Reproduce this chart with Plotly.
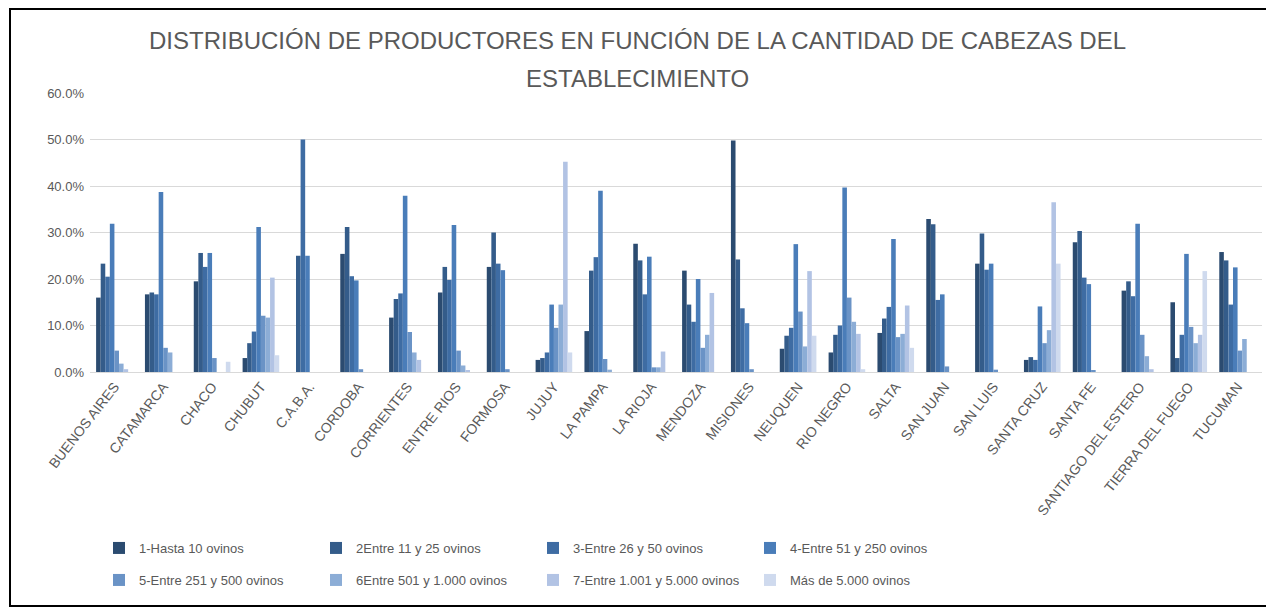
import plotly.graph_objects as go

provincias = ["BUENOS AIRES", "CATAMARCA", "CHACO", "CHUBUT", "C.A.B.A.", "CORDOBA",
              "CORRIENTES", "ENTRE RIOS", "FORMOSA", "JUJUY", "LA PAMPA", "LA RIOJA",
              "MENDOZA", "MISIONES", "NEUQUEN", "RIO NEGRO", "SALTA", "SAN JUAN",
              "SAN LUIS", "SANTA CRUZ", "SANTA FE", "SANTIAGO DEL ESTERO",
              "TIERRA DEL FUEGO", "TUCUMAN"]

series_names = ["1-Hasta 10 ovinos", "2Entre 11 y 25 ovinos", "3-Entre 26 y 50 ovinos",
                "4-Entre 51 y 250 ovinos", "5-Entre 251 y 500 ovinos",
                "6Entre 501 y 1.000 ovinos", "7-Entre 1.001 y 5.000 ovinos",
                "Más de 5.000 ovinos"]

s1 = [16.0, 16.7, 19.5, 3.0, 0.0, 25.4, 11.7, 17.1, 22.6, 2.6, 8.8, 27.6,
      21.8, 49.8, 5.0, 4.2, 8.4, 32.9, 23.3, 2.6, 27.9, 17.5, 15.0, 25.8]
s2 = [23.3, 17.1, 25.6, 6.2, 25.0, 31.2, 15.7, 22.6, 30.0, 3.0, 21.8, 24.0,
      14.5, 24.2, 7.8, 8.0, 11.5, 31.8, 29.8, 3.2, 30.3, 19.5, 3.0, 24.0]
s3 = [20.5, 16.7, 22.6, 8.7, 50.0, 20.6, 16.9, 19.8, 23.3, 4.2, 24.7, 16.7,
      10.8, 13.7, 9.5, 10.0, 14.0, 15.5, 22.0, 2.6, 20.3, 16.3, 8.0, 14.5]
s4 = [31.9, 38.7, 25.6, 31.2, 25.0, 19.7, 37.9, 31.6, 21.9, 14.5, 39.0, 24.8,
      20.0, 10.5, 27.5, 39.7, 28.6, 16.7, 23.3, 14.1, 18.9, 31.9, 25.4, 22.5]
s5 = [4.6, 5.2, 3.0, 12.1, 0.0, 0.6, 8.6, 4.6, 0.6, 9.5, 2.8, 1.0,
      5.2, 0.6, 13.0, 16.0, 7.5, 1.2, 0.5, 6.2, 0.4, 8.0, 9.7, 4.6]
s6 = [1.8, 4.2, 0.0, 11.7, 0.0, 0.0, 4.2, 1.4, 0.0, 14.5, 0.5, 1.0,
      8.0, 0.0, 5.5, 10.8, 8.2, 0.0, 0.0, 9.0, 0.0, 3.4, 6.2, 7.1]
s7 = [0.6, 0.0, 0.0, 20.3, 0.0, 0.0, 2.6, 0.4, 0.0, 45.2, 0.0, 4.4,
      17.0, 0.0, 21.7, 8.2, 14.3, 0.0, 0.0, 36.5, 0.0, 0.6, 8.0, 0.0]
s8 = [0.0, 0.0, 2.2, 3.6, 0.0, 0.0, 0.0, 0.0, 0.0, 4.2, 0.0, 0.0,
      0.0, 0.0, 7.8, 0.6, 5.2, 0.0, 0.0, 23.3, 0.0, 0.0, 21.7, 0.0]

title_lines = ["DISTRIBUCIÓN DE PRODUCTORES EN FUNCIÓN DE LA CANTIDAD DE CABEZAS DEL",
               "ESTABLECIMIENTO"]

all_series = [s1, s2, s3, s4, s5, s6, s7, s8]
colors = ["#2B4B70", "#345C8A", "#3E6CA3", "#4A7DB9", "#6A93C6", "#8CADD6",
          "#B2C3E4", "#CFDAEE"]

fig = go.Figure()
for i, (name, vals, col) in enumerate(zip(series_names, all_series, colors)):
    fig.add_trace(go.Bar(x=provincias, y=vals, name=name, marker_color=col,
                         marker_line_width=0,
                         legend="legend" if i < 4 else "legend2"))

grey = "#595959"
W, H = 1274, 610
OFF = 8  # page body offset
L, T = 90 - OFF, 93 - OFF
pw, ph = 1262 - 90, 372 - 93
R = W - L - pw
B = H - T - ph


def px_x(p):
    return (p - OFF - L) / pw


def px_y(p):
    return (T + ph - (p - OFF)) / ph


leg_common = dict(orientation="h", xref="paper", xanchor="left",
                  yref="container", yanchor="middle",
                  entrywidth=172, entrywidthmode="pixels",
                  font=dict(size=13, color=grey), traceorder="normal",
                  itemwidth=30, bgcolor="rgba(0,0,0,0)")

fig.update_layout(
    width=W, height=H,
    paper_bgcolor="white", plot_bgcolor="white",
    barmode="group", bargap=0.25, bargroupgap=0.0,
    margin=dict(l=L, r=R, t=T, b=B, autoexpand=False),
    font=dict(family="Liberation Sans, Arial, sans-serif", color=grey, size=12),
    xaxis=dict(tickangle=-52, tickfont=dict(size=14, color=grey),
               showline=True, linecolor="#d9d9d9", linewidth=1,
               showgrid=False, ticks="", automargin=False),
    yaxis=dict(range=[0, 60], dtick=10, tickformat=".1f", ticksuffix="%",
               showgrid=True, gridcolor="#d9d9d9", gridwidth=1,
               zeroline=False, showline=False, automargin=False,
               ticklabelstandoff=5,
               tickfont=dict(size=13, color=grey)),
    legend=dict(x=px_x(99), y=1 - (548 - OFF) / H, **leg_common),
    legend2=dict(x=px_x(99), y=1 - (580 - OFF) / H, **leg_common),
    showlegend=True,
)

for txt, ypix in zip(title_lines, [40, 78]):
    fig.add_annotation(text=txt, xref="paper", yref="paper",
                       x=px_x(637), y=px_y(ypix), xanchor="center", yanchor="middle",
                       showarrow=False, font=dict(size=24, color=grey))

fig.add_shape(type="rect", xref="paper", yref="paper",
              x0=px_x(10), x1=px_x(1268), y0=px_y(606), y1=px_y(9),
              line=dict(color="black", width=2), fillcolor="rgba(0,0,0,0)")

fig.write_html("out.html")
